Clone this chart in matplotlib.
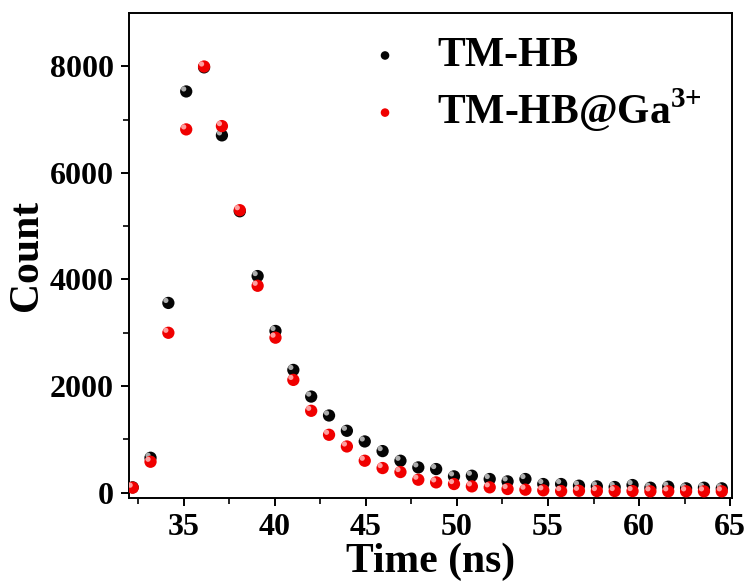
import matplotlib
matplotlib.use('Agg')
import matplotlib.pyplot as plt
from matplotlib.transforms import offset_copy

plt.rcParams['font.family'] = 'Liberation Serif'
plt.rcParams['font.weight'] = 'bold'
plt.rcParams['mathtext.fontset'] = 'custom'
plt.rcParams['mathtext.rm'] = 'Liberation Serif:bold'
plt.rcParams['mathtext.bf'] = 'Liberation Serif:bold'

# time channels (ns)
time = [32.2, 33.18, 34.16, 35.14, 36.12, 37.1, 38.08, 39.06, 40.04, 41.02,
        42.0, 42.98, 43.96, 44.94, 45.92, 46.9, 47.88, 48.86, 49.84, 50.82,
        51.8, 52.78, 53.76, 54.74, 55.72, 56.7, 57.68, 58.66, 59.64, 60.62,
        61.6, 62.58, 63.56, 64.54]

tm_hb = [100, 655, 3560, 7528, 7980, 6704, 5280, 4064, 3034, 2303,
         1803, 1448, 1161, 961, 780, 599, 474, 443, 306, 318,
         256, 212, 256, 162, 162, 131, 118, 106, 143, 93,
         112, 81, 93, 81]

tm_hb_ga = [94, 580, 3000, 6816, 7996, 6878, 5300, 3882, 2908, 2116,
            1536, 1086, 867, 599, 462, 387, 243, 193, 162, 118,
            100, 69, 56, 44, 30, 35, 30, 30, 30, 25,
            25, 25, 25, 25]

fig = plt.figure(figsize=(7.51, 5.83), dpi=100)
ax = fig.add_axes([0.1718, 0.1458, 0.8029, 0.8319])

hl = offset_copy(ax.transData, fig=fig, x=-1.8, y=1.8, units='points')

b = ax.scatter(time, tm_hb, s=78, color='#050505', edgecolors='none', zorder=3, label='TM-HB')
ax.scatter(time, tm_hb, s=14, color='#d8d8d8', edgecolors='none', alpha=0.8, zorder=4, transform=hl)
r = ax.scatter(time, tm_hb_ga, s=78, color='#f00000', edgecolors='none', zorder=5,
               label=r'TM-HB@Ga$^{\mathbf{3{+}}}$')
ax.scatter(time, tm_hb_ga, s=14, color='#ffb0b0', edgecolors='none', alpha=0.9, zorder=6, transform=hl)

ax.set_xlim(32, 65.1)
ax.set_ylim(-100, 9000)
ax.set_xticks([35, 40, 45, 50, 55, 60, 65])
ax.set_xticks([32.5, 37.5, 42.5, 47.5, 52.5, 57.5, 62.5], minor=True)
ax.set_yticks([0, 2000, 4000, 6000, 8000])
ax.set_yticks([1000, 3000, 5000, 7000], minor=True)

ax.tick_params(which='major', direction='out', length=6, width=1.4, labelsize=23, pad=5)
ax.tick_params(which='minor', direction='out', length=4, width=1.2)
for s in ax.spines.values():
    s.set_linewidth(1.4)

ax.set_xlabel('Time (ns)', fontsize=30, fontweight='bold', labelpad=0)
ax.set_ylabel('Count', fontsize=30, fontweight='bold', labelpad=3)

ax.legend(handles=[b, r], loc='upper left', bbox_to_anchor=(0.39, 0.95),
          frameon=False, fontsize=30, markerscale=0.7, handlelength=1.0,
          handletextpad=0.75, labelspacing=0.25, borderpad=0, borderaxespad=0)

fig.savefig('out.png', dpi=100)
